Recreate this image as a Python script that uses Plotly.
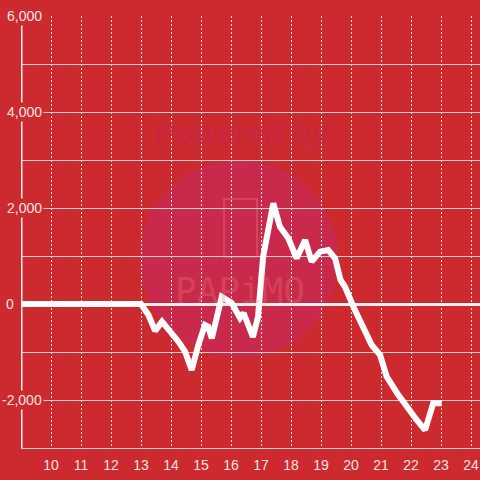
import plotly.graph_objects as go

# data: hour of day (decimal) and value
hours = [9.0, 13.0, 13.25, 13.47, 13.7, 14.0, 14.25, 14.47, 14.69, 14.91, 15.13, 15.24, 15.36,
         15.69, 16.02, 16.3, 16.42, 16.73, 16.9, 17.07, 17.41, 17.63, 17.91, 18.19, 18.47,
         18.69, 18.97, 19.24, 19.47, 19.65, 19.8, 20.08, 20.41, 20.69, 20.97, 21.19, 21.58,
         21.91, 22.19, 22.47, 22.74, 23.02]
values = [0, 0, -229, -560, -368, -576, -785, -993, -1375, -854, -437, -473, -715,
          152, 21, -292, -187, -688, -271, 979, 2097, 1611, 1368, 951, 1333,
          882, 1090, 1125, 951, 500, 360, -56, -473, -854, -1063, -1514, -1896,
          -2208, -2417, -2625, -2069, -2069]

x_ticks = list(range(10, 25))
y_label_vals = [6000, 4000, 2000, 0, -2000]
y_label_text = ["6,000", "4,000", "2,000", "0", "-2,000"]

BG = "#cd2a2f"
LABEL = "#f4e4e4"

fig = go.Figure()
fig.add_trace(go.Scatter(x=hours, y=values, mode="lines",
                         line=dict(color="white", width=6), hoverinfo="skip"))

shapes = [
    # watermark circle
    dict(type="circle", xref="paper", yref="paper",
         x0=(140 - 21) / 459, x1=(338 - 21) / 459,
         y0=(448 - 358) / 432, y1=(448 - 160) / 432,
         fillcolor="#c9294a", line=dict(width=0), layer="below"),
    # phone icon
    dict(type="rect", xref="paper", yref="paper",
         x0=(224 - 21) / 459, x1=(257 - 21) / 459,
         y0=(448 - 257) / 432, y1=(448 - 199) / 432,
         line=dict(color="rgba(235,120,120,0.35)", width=2), layer="below"),
    # y axis line
    dict(type="line", xref="x", yref="paper", x0=9.0, x1=9.0, y0=0, y1=1,
         line=dict(color="#f4f0f0", width=3), layer="above"),
]

annotations = [
    dict(text="<b><i>Powered by</i></b>", xref="paper", yref="paper",
         x=(242 - 21) / 459, y=(448 - 133) / 432, yanchor="middle", showarrow=False,
         font=dict(size=31, color="rgba(195,38,72,0.6)", family="Liberation Sans")),
    dict(text="PAPiMO", xref="paper", yref="paper",
         x=(240 - 21) / 459, y=(448 - 290) / 432, showarrow=False,
         font=dict(size=36, color="rgba(240,130,130,0.28)", family="DejaVu Sans Mono")),
]
for v, t in zip(y_label_vals, y_label_text):
    right = 16 if t == "0" else 44
    annotations.append(dict(text=t, xref="paper", yref="y", x=(right - 21) / 459, y=v,
                            xanchor="right", yanchor="middle", showarrow=False,
                            bgcolor=BG, borderpad=1,
                            font=dict(size=14, color=LABEL, family="Liberation Sans")))

fig.update_layout(
    width=480, height=480,
    margin=dict(l=21, r=0, t=16, b=32, autoexpand=False),
    paper_bgcolor=BG, plot_bgcolor=BG,
    showlegend=False,
    shapes=shapes, annotations=annotations,
    xaxis=dict(range=[9, 24.3], tickvals=x_ticks, ticktext=[str(t) for t in x_ticks],
               automargin=False,
               showgrid=True, gridcolor="#ebe4e4", gridwidth=1, griddash="2px,2px",
               zeroline=False, showline=True, linecolor="#d2d2d2", linewidth=1,
               ticks="", ticklabelstandoff=4,
               tickfont=dict(size=14, color=LABEL, family="Liberation Sans")),
    yaxis=dict(range=[-3000, 6000], dtick=1000, tick0=0, showticklabels=False,
               automargin=False,
               showgrid=True, gridcolor="#d2d2d2", gridwidth=1,
               zeroline=True, zerolinecolor="#f4f0f0", zerolinewidth=3,
               ticks=""),
)

fig.write_html("out.html", config={"displayModeBar": False},
               post_script="document.body.style.margin='0';document.body.style.overflow='hidden';")
